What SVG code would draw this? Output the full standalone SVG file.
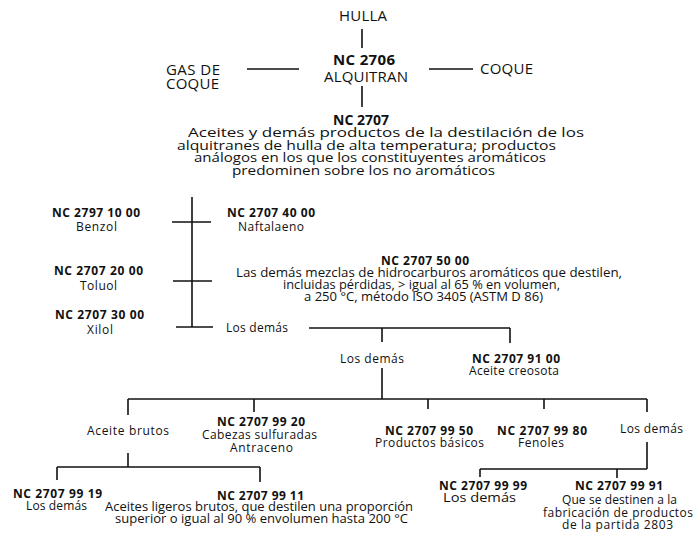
<svg xmlns="http://www.w3.org/2000/svg" width="695" height="535" viewBox="0 0 695 535">
  <style>
    text { font-family: "Open Sans", "Noto Sans", "Liberation Sans", sans-serif; fill: #111; }
    .t15 { font-size: 15px; }
    .t13 { font-size: 13px; }
    .b15 { font-size: 15px; font-weight: bold; }
    .b14 { font-size: 14px; font-weight: bold; }
    .b12 { font-size: 12px; font-weight: bold; }
    .t12 { font-size: 12px; }
    .con line { stroke: #111; stroke-width: 1.6; fill: none; }
  </style>
  <rect width="695" height="535" fill="#ffffff"/>

  <!-- connectors -->
  <g id="connectors" class="con">
    <line x1="362" y1="29" x2="362" y2="48"/>
    <line x1="362" y1="86" x2="362" y2="107"/>
    <line x1="247" y1="69" x2="299" y2="69"/>
    <line x1="429" y1="69" x2="473" y2="69"/>
    <!-- main trunk with ticks -->
    <line x1="192" y1="197" x2="192" y2="327"/>
    <line x1="172" y1="222" x2="211" y2="222"/>
    <line x1="173" y1="281" x2="212" y2="281"/>
    <line x1="176" y1="327" x2="213" y2="327"/>
    <!-- Los demás split -->
    <line x1="309" y1="328" x2="510" y2="328"/>
    <line x1="382" y1="328" x2="382" y2="342"/>
    <line x1="510" y1="328" x2="510" y2="343"/>
    <!-- second level bus -->
    <line x1="382" y1="368" x2="382" y2="399"/>
    <line x1="128" y1="399" x2="647" y2="399"/>
    <line x1="128" y1="399" x2="128" y2="415"/>
    <line x1="254" y1="399" x2="254" y2="412"/>
    <line x1="428" y1="399" x2="428" y2="409"/>
    <line x1="544" y1="399" x2="544" y2="409"/>
    <line x1="647" y1="399" x2="647" y2="412"/>
    <!-- Aceite brutos split -->
    <line x1="128" y1="453" x2="128" y2="467"/>
    <line x1="57" y1="467" x2="260" y2="467"/>
    <line x1="57" y1="467" x2="57" y2="480"/>
    <line x1="260" y1="467" x2="260" y2="482"/>
    <!-- Los demás (right) split -->
    <line x1="647" y1="442" x2="647" y2="469"/>
    <line x1="480" y1="469" x2="647" y2="469"/>
    <line x1="480" y1="469" x2="480" y2="477"/>
    <line x1="617" y1="469" x2="617" y2="478"/>
  </g>

  <g id="hulla"><text class="t15" x="339" y="21" textLength="48">HULLA</text></g>
  <g id="nc2706">
    <text class="b15" x="333" y="65" textLength="62">NC 2706</text>
    <text class="t15" x="324" y="82" textLength="84">ALQUITRAN</text>
  </g>
  <g id="gas-coque">
    <text class="t15" x="166" y="75" textLength="54">GAS DE</text>
    <text class="t15" x="166" y="89" textLength="53">COQUE</text>
  </g>
  <g id="coque"><text class="t15" x="480" y="74" textLength="53">COQUE</text></g>

  <g id="nc2707">
    <text class="b14" x="333" y="125" textLength="56">NC 2707</text>
    <text class="t13" x="188" y="137" textLength="396" lengthAdjust="spacingAndGlyphs">Aceites y demás productos de la destilación de los</text>
    <text class="t13" x="177" y="150" textLength="379" lengthAdjust="spacingAndGlyphs">alquitranes de hulla de alta temperatura; productos</text>
    <text class="t13" x="194" y="162" textLength="352" lengthAdjust="spacingAndGlyphs">análogos en los que los constituyentes aromáticos</text>
    <text class="t13" x="232" y="175" textLength="263" lengthAdjust="spacingAndGlyphs">predominen sobre los no aromáticos</text>
  </g>

  <g id="nc27071000">
    <text class="b12" x="52" y="217" textLength="88">NC 2797 10 00</text>
    <text class="t12" x="76" y="231" textLength="41">Benzol</text>
  </g>
  <g id="nc27074000">
    <text class="b12" x="227" y="217" textLength="88">NC 2707 40 00</text>
    <text class="t12" x="238" y="231" textLength="66">Naftalaeno</text>
  </g>
  <g id="nc27072000">
    <text class="b12" x="54" y="275" textLength="89">NC 2707 20 00</text>
    <text class="t12" x="80" y="290" textLength="37">Toluol</text>
  </g>
  <g id="nc27073000">
    <text class="b12" x="55" y="319" textLength="89">NC 2707 30 00</text>
    <text class="t12" x="87" y="334" textLength="26">Xilol</text>
  </g>
  <g id="nc27075000">
    <text class="b12" x="381" y="265" textLength="88">NC 2707 50 00</text>
    <text class="t12" x="236" y="277" textLength="386" lengthAdjust="spacingAndGlyphs">Las demás mezclas de hidrocarburos aromáticos que destilen,</text>
    <text class="t12" x="283" y="289" textLength="277" lengthAdjust="spacingAndGlyphs">incluidas  pérdidas, &gt; igual al 65 % en volumen,</text>
    <text class="t12" x="304" y="301" textLength="239" lengthAdjust="spacingAndGlyphs">a 250 °C, método ISO 3405 (ASTM D 86)</text>
  </g>
  <g id="los-demas-1"><text class="t12" x="226" y="332" textLength="62">Los demás</text></g>
  <g id="los-demas-2"><text class="t12" x="340" y="363" textLength="64">Los demás</text></g>
  <g id="nc27079100">
    <text class="b12" x="472" y="363" textLength="88">NC 2707 91 00</text>
    <text class="t12" x="469" y="375" textLength="90">Aceite creosota</text>
  </g>

  <g id="aceite-brutos"><text class="t12" x="87" y="435" textLength="82">Aceite brutos</text></g>
  <g id="nc27079920">
    <text class="b12" x="217" y="426" textLength="88">NC 2707 99 20</text>
    <text class="t12" x="202" y="439" textLength="115">Cabezas sulfuradas</text>
    <text class="t12" x="230" y="452" textLength="63">Antraceno</text>
  </g>
  <g id="nc27079950">
    <text class="b12" x="385" y="435" textLength="88">NC 2707 99 50</text>
    <text class="t12" x="375" y="447" textLength="109">Productos básicos</text>
  </g>
  <g id="nc27079980">
    <text class="b12" x="497" y="435" textLength="90">NC 2707 99 80</text>
    <text class="t12" x="518" y="447" textLength="46">Fenoles</text>
  </g>
  <g id="los-demas-3"><text class="t12" x="620" y="433" textLength="63">Los demás</text></g>

  <g id="nc27079919">
    <text class="b12" x="13" y="498" textLength="89">NC 2707 99 19</text>
    <text class="t12" x="26" y="510" textLength="61">Los demás</text>
  </g>
  <g id="nc27079911">
    <text class="b12" x="217" y="500" textLength="87">NC 2707 99 11</text>
    <text class="t12" x="105" y="511" textLength="308" lengthAdjust="spacingAndGlyphs">Aceites ligeros brutos, que destilen una proporción</text>
    <text class="t12" x="115" y="523" textLength="293" lengthAdjust="spacingAndGlyphs">superior o igual al 90 % envolumen hasta 200 °C</text>
  </g>
  <g id="nc27079999">
    <text class="b12" x="439" y="490" textLength="88">NC 2707 99 99</text>
    <text class="t13" x="443" y="502" textLength="73" lengthAdjust="spacingAndGlyphs">Los demás</text>
  </g>
  <g id="nc27079991">
    <text class="b12" x="575" y="490" textLength="88">NC 2707 99 91</text>
    <text class="t12" x="562" y="504" textLength="115">Que se destinen a la</text>
    <text class="t12" x="543" y="517" textLength="150">fabricación de productos</text>
    <text class="t12" x="562" y="529" textLength="111">de la partida 2803</text>
  </g>
</svg>
